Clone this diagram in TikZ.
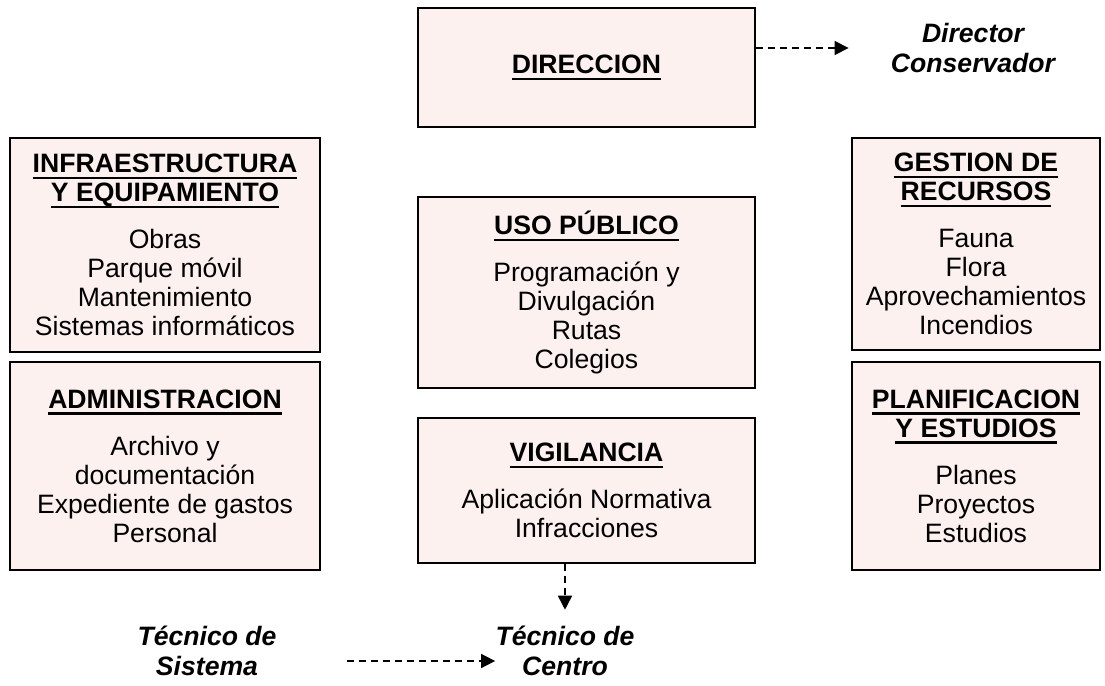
\documentclass[tikz,border=0pt]{standalone}
\usepackage{fontspec}
\setmainfont{Liberation Sans}
\usetikzlibrary{arrows.meta}
\definecolor{boxfill}{RGB}{253,241,239}
\newsavebox{\ttlbox}
\newcommand{\ttl}[1]{\sbox{\ttlbox}{\bfseries #1}\rlap{\usebox{\ttlbox}}\rule[-3.2pt]{\wd\ttlbox}{1.2pt}}
\tikzset{
	area/.style={draw, line width=0.9pt, fill=boxfill, align=center, inner sep=0pt,
		font=\fontsize{13.3}{14.5}\selectfont},
	role/.style={align=center, inner sep=0pt, font=\fontsize{13.3}{15}\selectfont\bfseries\itshape},
	dasharr/.style={-{Triangle[length=7pt,width=7pt]}, dash pattern=on 3.5pt off 2.5pt, line width=0.8pt}
}
\begin{document}
\begin{tikzpicture}[x=0.5pt,y=-0.5pt]
	\useasboundingbox (0,0) rectangle (1105,686);
	% boxes
	\node[area, minimum width=168.5, minimum height=59.5] (dir) at (586.5,67.5) {\ttl{DIRECCION}};
	\node[area, minimum width=155, minimum height=107] (inf) at (165,245) {\ttl{INFRAESTRUCTURA}\\\ttl{Y EQUIPAMIENTO}\\[9pt]Obras\\Parque móvil\\Mantenimiento\\Sistemas informáticos};
	\node[area, minimum width=124, minimum height=106] (ges) at (976,244) {\ttl{GESTION DE}\\\ttl{RECURSOS}\\[9pt]Fauna\\Flora\\Aprovechamientos\\Incendios};
	\node[area, minimum width=168.5, minimum height=95.5] (uso) at (586.5,292.5) {\ttl{USO PÚBLICO}\\[9pt]Programación y\\Divulgación\\Rutas\\Colegios};
	\node[area, minimum width=155, minimum height=104] (adm) at (165,466) {\ttl{ADMINISTRACION}\\[9pt]Archivo y\\documentación\\Expediente de gastos\\Personal};
	\node[area, minimum width=168.5, minimum height=72.5] (vig) at (586.5,490.5) {\ttl{VIGILANCIA}\\[9pt]Aplicación Normativa\\Infracciones};
	\node[area, minimum width=124, minimum height=104] (pla) at (976,466) {\ttl{PLANIFICACION}\\\ttl{Y ESTUDIOS}\\[9pt]Planes\\Proyectos\\Estudios};
	% roles
	\node[role] (dc) at (973,48) {Director\\Conservador};
	\node[role] (sis) at (207,651) {Técnico de\\Sistema};
	\node[role] (cen) at (565,651) {Técnico de\\Centro};
	% arrows
	\draw[dasharr, shorten >=21pt] (dc.west -| dir.east) -- (dc.west);
	\draw[dasharr, shorten >=8pt] (vig.south -| cen.north) -- (cen.north);
	\draw[dasharr, shorten <=35pt] ([yshift=-5pt]sis.east) -- ([yshift=-5pt]cen.west);
\end{tikzpicture}
\end{document}
